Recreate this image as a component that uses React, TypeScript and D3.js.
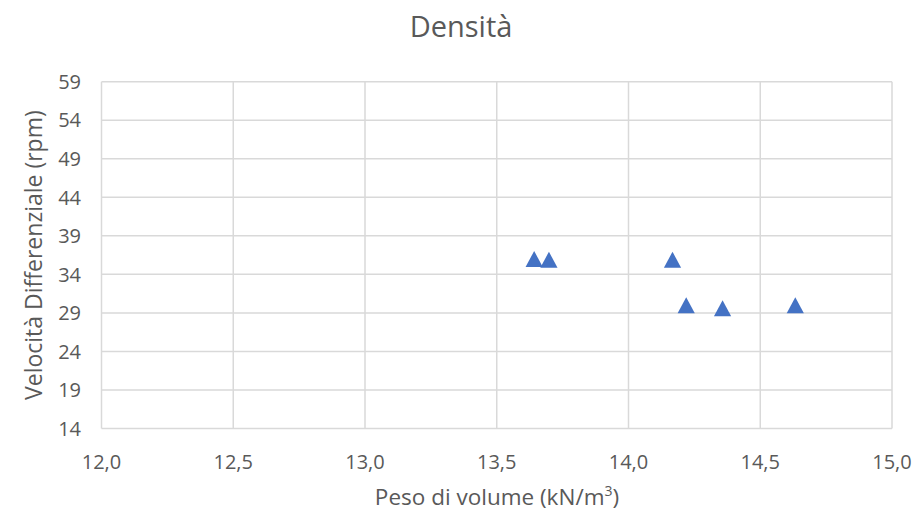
import React from "react";
import * as d3 from "d3";

const xValues = [13.642, 13.698, 14.167, 14.219, 14.357, 14.633];
const yValues = [36, 35.9, 35.9, 30, 29.6, 30];
const xTicks = [12.0, 12.5, 13.0, 13.5, 14.0, 14.5, 15.0];
const yTicks = [14, 19, 24, 29, 34, 39, 44, 49, 54, 59];
const title = "Densità";
const xTitle = "Peso di volume (kN/m";
const yTitle = "Velocità Differenziale (rpm)";

const W = 917;
const H = 512;
const left = 101.5;
const right = 892;
const top = 81.7;
const bottom = 428.5;
const font = "'Open Sans', 'Liberation Sans', sans-serif";
const textColor = "#595959";
const half = 8.6;
const hh = 8;

export default function App() {
  const x = d3.scaleLinear().domain([12, 15]).range([left, right]);
  const y = d3.scaleLinear().domain([14, 59]).range([bottom, top]);
  const tri =
    d3.line()([
      [0, -hh],
      [half, hh],
      [-half, hh],
    ]) + "Z";
  const fmt = (v: number) => v.toFixed(1).replace(".", ",");
  return (
    <svg width={W} height={H} style={{ position: "absolute", left: 0, top: 0 }}>
      <rect width={W} height={H} fill="#fff" />
      <text x={461} y={37} textAnchor="middle" fontFamily={font} fontSize={29} fill={textColor}>
        {title}
      </text>
      {yTicks.map((t) => (
        <line key={"gy" + t} x1={left} x2={right} y1={y(t)} y2={y(t)} stroke="#d9d9d9" strokeWidth={1.5} />
      ))}
      {xTicks.map((t) => (
        <line key={"gx" + t} x1={x(t)} x2={x(t)} y1={top} y2={bottom} stroke="#d9d9d9" strokeWidth={1.5} />
      ))}
      {yTicks.map((t) => (
        <text key={"ty" + t} x={81} y={y(t)} dy="0.36em" textAnchor="end" fontFamily={font} fontSize={20} fill={textColor}>
          {t}
        </text>
      ))}
      {xTicks.map((t) => (
        <text key={"tx" + t} x={x(t)} y={462} dy="0.36em" textAnchor="middle" fontFamily={font} fontSize={20} fill={textColor}>
          {fmt(t)}
        </text>
      ))}
      <text x={497} y={505} textAnchor="middle" fontFamily={font} fontSize={22.5} fill={textColor}>
        {xTitle}
        <tspan dy={-9} fontSize={14}>3</tspan>
        <tspan dy={9}>)</tspan>
      </text>
      <text
        transform={`translate(42, ${(top + bottom) / 2}) rotate(-90)`}
        textAnchor="middle"
        fontFamily={font}
        fontSize={23}
        fill={textColor}
      >
        {yTitle}
      </text>
      {xValues.map((v, i) => (
        <path key={"p" + i} d={tri} transform={`translate(${x(v)}, ${y(yValues[i])})`} fill="#4472c4" />
      ))}
    </svg>
  );
}
